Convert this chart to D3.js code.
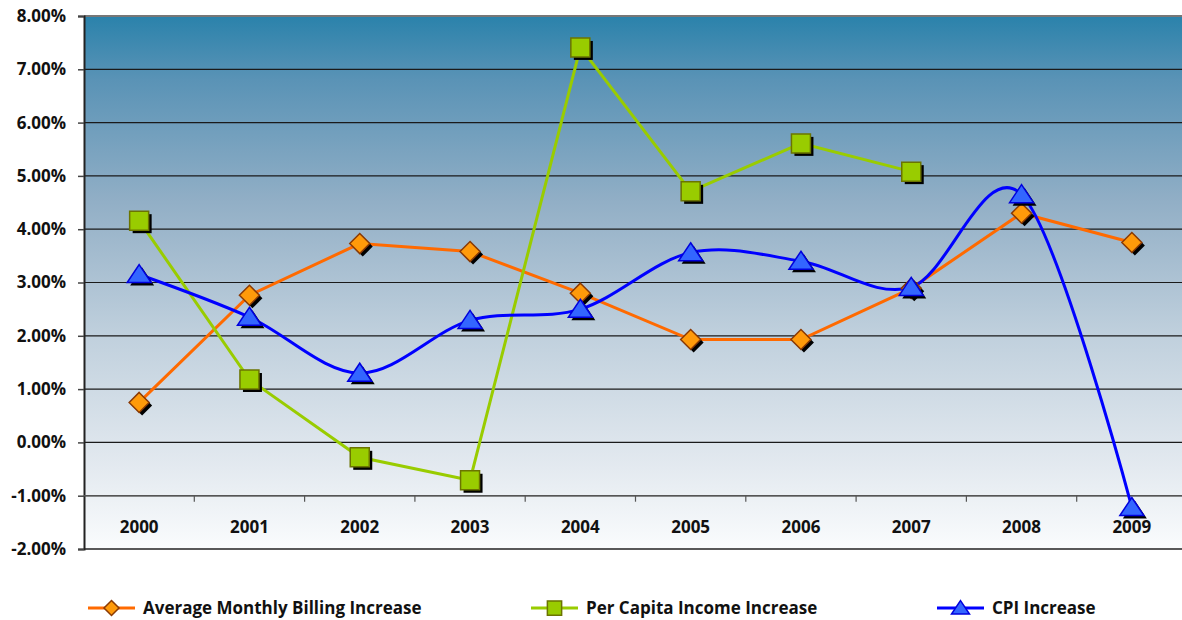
<!DOCTYPE html>
<html><head><meta charset="utf-8">
<script src="https://cdn.jsdelivr.net/npm/d3@7"></script>
<style>body{margin:0;background:#fff}svg{display:block}text{font-family:"Open Sans",sans-serif;font-weight:bold;fill:#111}</style>
</head><body><svg id="c" width="1182" height="620"></svg>
<script>
const years = ["2000","2001","2002","2003","2004","2005","2006","2007","2008","2009"];
const billing = [0.75, 2.76, 3.73, 3.58, 2.80, 1.93, 1.93, 2.89, 4.30, 3.75];
const perCapita = [4.16, 1.18, -0.28, -0.71, 7.41, 4.71, 5.61, 5.08, null, null];
const cpi = [3.15, 2.35, 1.30, 2.29, 2.50, 3.56, 3.40, 2.91, 4.65, -1.22];
const yTicks = [-2, -1, 0, 1, 2, 3, 4, 5, 6, 7, 8];
const seriesNames = ["Average Monthly Billing Increase", "Per Capita Income Increase", "CPI Increase"];

const svg = d3.select("#c");
const L = 84, R = 1187, T = 16, B = 549;
const x = d3.scalePoint().domain(years).range([L, R]).padding(0.5);
const y = d3.scaleLinear().domain([-2, 8]).range([B, T]);

const defs = svg.append("defs");
const g = defs.append("linearGradient").attr("id","bg").attr("x1",0).attr("y1",0).attr("x2",0).attr("y2",1);
[[0,"#2a82ab"],[0.12,"#5a93b6"],[0.35,"#92afc6"],[0.6,"#c0d0dd"],[0.85,"#e4eaf0"],[1,"#fafcfd"]]
  .forEach(([o,c]) => g.append("stop").attr("offset",o).attr("stop-color",c));

svg.append("rect").attr("x",L).attr("y",T).attr("width",1182-L).attr("height",B-T).attr("fill","url(#bg)");

// gridlines
svg.append("g").selectAll("line").data(yTicks.filter(d=>d>-2)).join("line")
  .attr("x1",L).attr("x2",1182).attr("y1",d=>y(d)).attr("y2",d=>y(d))
  .attr("stroke",d=>d===8?"#777":"#1a1a1a").attr("stroke-width",d=>d===8?2:1.2);
svg.append("line").attr("x1",L).attr("x2",1182).attr("y1",B).attr("y2",B).attr("stroke","#222").attr("stroke-width",1.5);

// y axis
const ya = svg.append("g").attr("transform",`translate(${L},0)`)
  .call(d3.axisLeft(y).tickValues(yTicks).tickFormat(d=>d.toFixed(2)+"%").tickSize(6).tickPadding(12));
ya.select(".domain").attr("stroke","#222").attr("stroke-width",2);
ya.selectAll(".tick line").attr("stroke","#444").attr("stroke-width",1.5);
ya.selectAll("text").attr("font-size",17).attr("font-family","Open Sans").attr("font-weight","bold").attr("fill","#111");

// x axis at -1%
const step = x.step();
const xa = svg.append("g").attr("transform",`translate(0,${y(-1)})`);
xa.append("line").attr("x1",L).attr("x2",1182).attr("stroke","#555").attr("stroke-width",1.5);
xa.selectAll("line.t").data(years.slice(1)).join("line").attr("class","t")
  .attr("x1",d=>x(d)-step/2).attr("x2",d=>x(d)-step/2).attr("y1",0).attr("y2",6)
  .attr("stroke","#555").attr("stroke-width",1.2);
xa.selectAll("text").data(years).join("text")
  .attr("x",d=>x(d)).attr("y",37).attr("text-anchor","middle").attr("font-size",17).text(d=>d);

// lines
const mk = (vals) => years.map((yr,i)=>({yr, v: vals[i]})).filter(d=>d.v!==null);
const straight = d3.line().x(d=>x(d.yr)).y(d=>y(d.v));
const smooth = d3.line().x(d=>x(d.yr)).y(d=>y(d.v)).curve(d3.curveCardinal.tension(0));

const series = [
  {data: mk(billing), line: straight, color:"#ff6a00", shape:"diamond", fill:"#ff9a0a", stroke:"#8a3a05"},
  {data: mk(perCapita), line: straight, color:"#99cc00", shape:"square", fill:"#99cc00", stroke:"#6b7400"},
  {data: mk(cpi), line: smooth, color:"#0000ff", shape:"triangle", fill:"#3366ff", stroke:"#0000dd"}
];

function shapePath(shape, cx, cy){
  if(shape==="diamond"){ const r=10; return `M${cx},${cy-r}L${cx+r},${cy}L${cx},${cy+r}L${cx-r},${cy}Z`; }
  if(shape==="square"){ const r=9.5; return `M${cx-r},${cy-r}H${cx+r}V${cy+r}H${cx-r}Z`; }
  const h=18, w=12; return `M${cx},${cy-h*0.55}L${cx+w},${cy+h*0.45}L${cx-w},${cy+h*0.45}Z`;
}

series.forEach(s => {
  svg.append("path").datum(s.data).attr("d",s.line).attr("fill","none")
    .attr("stroke",s.color).attr("stroke-width",3);
});
series.forEach(s => {
  const gm = svg.append("g");
  gm.selectAll("path.sh").data(s.data).join("path").attr("class","sh")
    .attr("d",d=>shapePath(s.shape, x(d.yr)+3, y(d.v)+3)).attr("fill","#000");
  gm.selectAll("path.m").data(s.data).join("path").attr("class","m")
    .attr("d",d=>shapePath(s.shape, x(d.yr), y(d.v))).attr("fill",s.fill)
    .attr("stroke",s.stroke).attr("stroke-width",1.5);
});

// legend
const legX = [88, 531, 937];
const lg = svg.append("g");
series.forEach((s,i) => {
  const lx = legX[i], ly = 608;
  lg.append("line").attr("x1",lx).attr("x2",lx+47).attr("y1",ly).attr("y2",ly).attr("stroke",s.color).attr("stroke-width",3);
  const cx = lx+23.5;
  lg.append("path").attr("d",shapePath(s.shape, 0, 0)).attr("fill",s.fill).attr("stroke",s.stroke).attr("stroke-width",2)
    .attr("transform",`translate(${cx},${ly}) scale(0.75)`);
  lg.append("text").attr("x",lx+55).attr("y",ly+6).attr("font-size",17).text(seriesNames[i]);
});
</script></body></html>
